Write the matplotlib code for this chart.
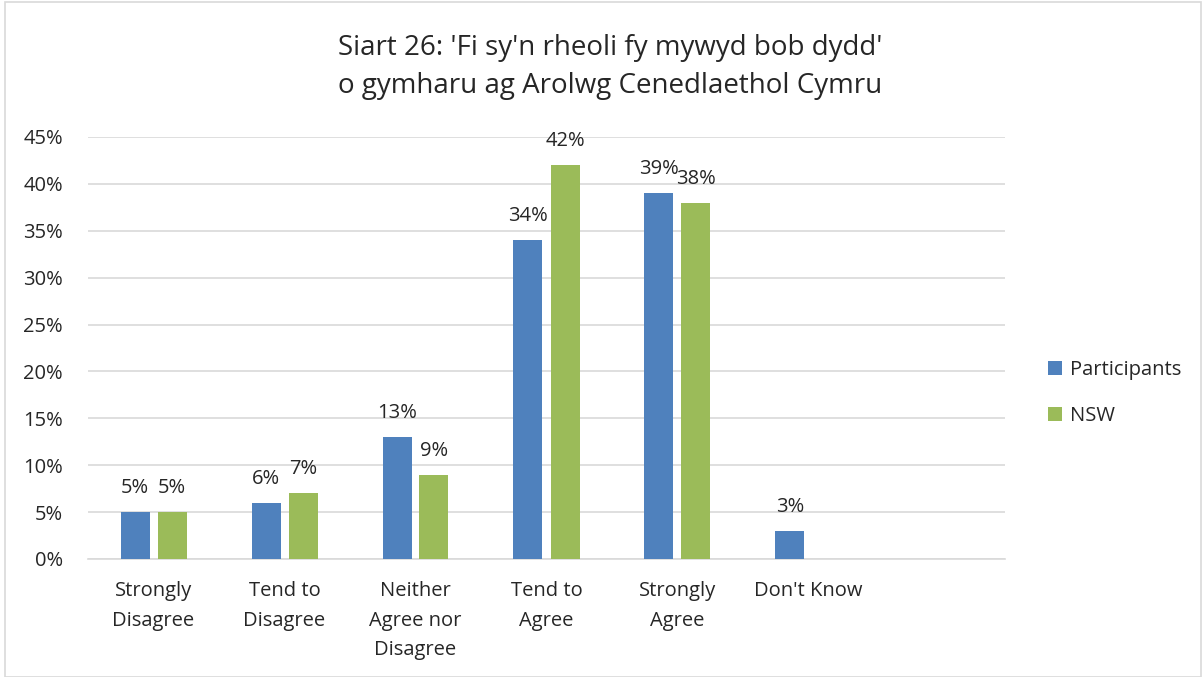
import matplotlib
matplotlib.use("Agg")
import matplotlib.pyplot as plt
import numpy as np
from matplotlib.patches import Rectangle

plt.rcParams['font.family'] = ['Open Sans', 'DejaVu Sans']

categories = ["Strongly\nDisagree", "Tend to\nDisagree", "Neither\nAgree nor\nDisagree",
              "Tend to\nAgree", "Strongly\nAgree", "Don't Know", ""]
participants = [5, 6, 13, 34, 39, 3, None]
nsw = [5, 7, 9, 42, 38, None, None]
series_names = ["Participants", "NSW"]
yticks = [0, 5, 10, 15, 20, 25, 30, 35, 40, 45]
title = "Siart 26: 'Fi sy'n rheoli fy mywyd bob dydd'\no gymharu ag Arolwg Cenedlaethol Cymru"

blue = "#4F81BD"
green = "#9BBB59"
text_c = "#262626"
fs = 14.5

W, H = 1203, 677
fig = plt.figure(figsize=(W / 100, H / 100), dpi=100)
fig.patches.append(Rectangle((5 / W, 0), (W - 7) / W, (H - 2) / H, transform=fig.transFigure,
                             fill=False, edgecolor="#D9D9D9", linewidth=1.2))

ax = fig.add_axes([88 / W, 1 - 559 / H, (1005 - 88) / W, (559 - 137) / H])

x = np.arange(len(categories))
bw = 29 / 131
gap = 8 / 131
off = (bw + gap) / 2

bars = []
for vals, color, sign, name in [(participants, blue, -1, series_names[0]), (nsw, green, 1, series_names[1])]:
    xs = [xi + sign * off for xi, v in zip(x, vals) if v is not None]
    vs = [v for v in vals if v is not None]
    b = ax.bar(xs, vs, width=bw, color=color, label=name, zorder=3)
    for xi, v in zip(xs, vs):
        ax.text(xi, v + 1.5, f"{v}%", ha="center", va="bottom", fontsize=fs, color=text_c)
    bars.append(b)

ax.set_xlim(-0.5, len(categories) - 0.5)
ax.set_ylim(0, 45)
ax.set_yticks(yticks)
ax.set_yticklabels([f"{t}%" for t in yticks], fontsize=fs, color=text_c)
ax.set_xticks(x)
ax.set_xticklabels(categories, fontsize=fs, color=text_c, linespacing=1.62)
ax.tick_params(axis="both", length=0)
ax.tick_params(axis="y", pad=18)
ax.tick_params(axis="x", pad=16)
ax.grid(axis="y", color="#D9D9D9", linewidth=1.2, zorder=0)
for s in ["top", "right", "left"]:
    ax.spines[s].set_visible(False)
ax.spines["bottom"].set_color("#D9D9D9")
ax.spines["bottom"].set_linewidth(1.2)

fig.text(610 / W, 1 - 67 / H, title, ha="center", va="center", fontsize=20,
         color=text_c, linespacing=1.5)

leg = fig.legend(handles=bars, labels=series_names, loc="center left",
                 bbox_to_anchor=(1030 / W, 1 - 393 / H), frameon=False,
                 fontsize=fs, handlelength=0.7, handleheight=0.7,
                 labelspacing=1.3, handletextpad=0.4)
for t in leg.get_texts():
    t.set_color(text_c)

fig.savefig("out.png", dpi=100)
